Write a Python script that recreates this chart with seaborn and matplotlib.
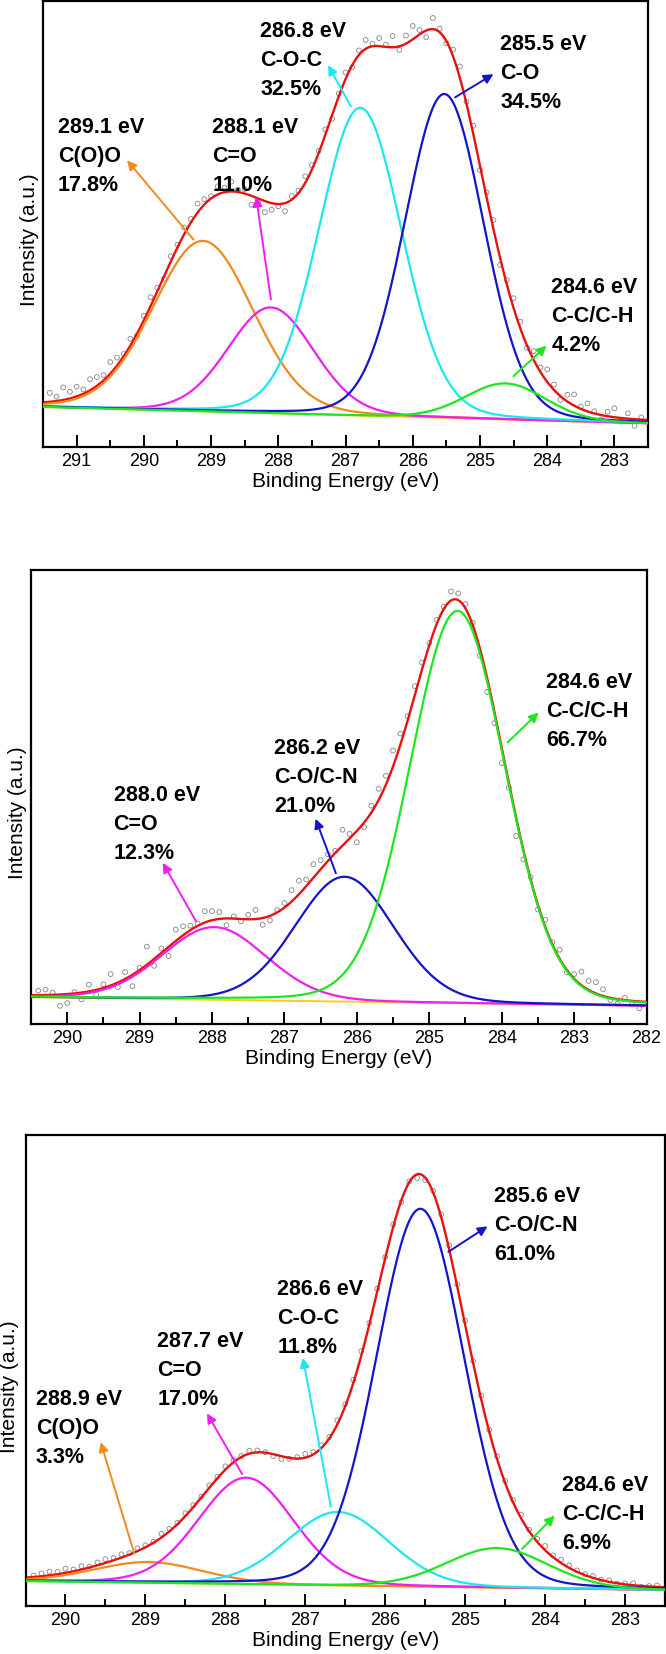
import numpy as np
import matplotlib
matplotlib.use("Agg")
import matplotlib.pyplot as plt
from matplotlib.ticker import MultipleLocator
import seaborn as sns

# ---------------- Panel 1 (C 1s, sample A) ----------------
p1_energy = np.linspace(291.4, 282.6, 89)
p1_resid = [2.0, 1.0, 2.8, 1.5, 2.2, 1.0, 2.5, 2.0, 1.2, 2.6,
            1.8, 0.5, 1.5, -0.5, 1.0, 2.0, 0.8, -0.5, 1.2, 0.6,
            1.5, 0.8, 2.0, 1.2, 0.5, 1.8, 1.0, 2.2, 0.5, 1.0,
            -2.0, -1.0, -2.5, -1.5, -0.5, -1.8, 0.8, 0.5, 1.5, 1.0,
            0.5, 1.2, -0.8, 0.6, 1.5, -0.5, 1.0, 2.0, 0.5, 1.8,
            0.5, 2.5, -0.8, 1.8, 3.0, 1.0, -1.5, 2.5, 0.8, -0.5,
            1.5, 2.5, 0.5, 1.8, -1.0, 1.2, 2.0, -1.5, 1.0, 2.2,
            1.5, -0.5, 2.0, 1.0, 2.8, 1.2, -0.8, 1.5, 2.5, 0.5,
            1.8, 0.5, -1.0, 1.0, 2.0, -0.8, 1.2, -1.5, 0.5]
p1_bg = [9.0, 5.3]          # background at high / low energy end
p1_center = [289.12, 288.11, 286.78, 285.53, 284.62]
p1_height = [38.2, 23.7, 69.0, 72.6, 8.1]
p1_fwhm = [1.75, 1.5, 1.45, 1.38, 1.4]
p1_labels = ["289.1 eV\nC(O)O\n17.8%", "288.1 eV\nC=O\n11.0%", "286.8 eV\nC-O-C\n32.5%",
             "285.5 eV\nC-O\n34.5%", "284.6 eV\nC-C/C-H\n4.2%"]

# ---------------- Panel 2 (C 1s, sample B) ----------------
p2_energy = np.linspace(290.4, 282.1, 84)
p2_resid = [1.0, 1.2, 0.5, -2.5, -2.0, 0.3, -1.5, 1.5, -1.0, 0.8,
            2.5, -1.0, 1.5, -2.5, 0.5, 4.0, -1.5, 1.0, -2.0, 2.5,
            2.0, 1.0, 0.5, 2.5, 2.0, 1.5, -1.5, 0.5, -0.5, 1.0,
            2.0, -1.5, -1.0, 0.5, 1.0, 2.5, 3.0, 1.5, 3.0, 2.0,
            1.5, 0.5, 3.5, 1.0, -2.5, -1.0, 1.5, 2.5, 2.0, 3.5,
            2.5, 1.0, 2.0, 1.5, 0.5, 1.0, 0.5, 2.0, 1.5, 1.0,
            0.5, -1.5, -3.0, -2.5, -3.5, -1.0, -4.0, -2.0, 0.5, -1.0,
            1.5, 0.5, 2.0, -0.5, 1.0, 3.0, 2.0, 2.5, 1.5, -0.5,
            -1.0, 0.5, -0.8, -1.5]
p2_bg = [5.9, 4.0]
p2_center = [287.97, 286.17, 284.61]
p2_height = [16.0, 27.5, 86.4]
p2_fwhm = [1.7, 1.6, 1.55]
p2_labels = ["288.0 eV\nC=O\n12.3%", "286.2 eV\nC-O/C-N\n21.0%", "284.6 eV\nC-C/C-H\n66.7%"]

# ---------------- Panel 3 (C 1s, sample C) ----------------
p3_energy = np.linspace(290.4, 282.6, 79)
p3_resid = [0.3, 0.6, 0.8, 0.5, 0.9, 0.4, 0.7, 0.2, 0.6, 0.8,
            0.5, 0.7, 0.3, 0.6, 0.4, 0.2, 0.8, 0.5, 0.3, 0.6,
            0.4, 0.2, 0.5, 0.3, 0.7, 0.5, 0.2, 0.6, 0.4, 0.1,
            -0.4, -0.6, -0.2, 0.3, 0.8, 0.5, 0.6, 0.3, 0.9, 0.4,
            0.7, 1.0, 0.4, 0.6, 0.2, 0.5, -0.3, 0.2, -0.8, -0.5,
            0.3, 0.6, 0.8, 0.4, 0.9, 0.5, 0.7, 0.3, 0.6, 0.4,
            0.5, 0.8, 0.3, 0.6, 0.9, 0.4, 0.7, 0.5, 0.3, 0.2,
            0.4, 0.1, 0.3, -0.1, 0.2, 0.4, -0.2, 0.1, 0.3]
p3_bg = [5.3, 3.4]
p3_center = [288.96, 287.74, 286.59, 285.56, 284.6]
p3_height = [4.4, 22.6, 15.6, 80.2, 8.4]
p3_fwhm = [1.6, 1.4, 1.5, 1.3, 1.5]
p3_labels = ["288.9 eV\nC(O)O\n3.3%", "287.7 eV\nC=O\n17.0%", "286.6 eV\nC-O-C\n11.8%",
             "285.6 eV\nC-O/C-N\n61.0%", "284.6 eV\nC-C/C-H\n6.9%"]

# ---------------- styles / layout ----------------
ORANGE, MAGENTA, CYAN, BLUE, GREEN = "#f28a1e", "#f01ef0", "#1ee6f0", "#1414c8", "#1ee61e"
RED = "#e8110f"
BGCOL = "#f2d21a"

panels = [
    dict(energy=p1_energy, resid=p1_resid, bg=p1_bg, center=p1_center, height=p1_height,
         fwhm=p1_fwhm, labels=p1_labels, colors=[ORANGE, MAGENTA, CYAN, BLUE, GREEN],
         xlim=(291.5, 282.5), major=np.arange(283, 292),
         rect=[0.0646, 0.7297, 0.9084, 0.2697], ylab_x=-0.007,
         text_xy=[(291.28, 74.0), (288.98, 74.0), (288.27, 95.5), (284.70, 92.7), (283.94, 38.2)],
         arrows=[((289.26, 46.5), (290.25, 64.3)), ((288.11, 33.1), (288.33, 56.1)),
                 ((286.92, 76.4), (287.26, 85.6)), ((285.37, 78.4), (284.80, 83.6)),
                 ((284.50, 15.9), (284.01, 22.7))]),
    dict(energy=p2_energy, resid=p2_resid, bg=p2_bg, center=p2_center, height=p2_height,
         fwhm=p2_fwhm, labels=p2_labels, colors=[MAGENTA, BLUE, GREEN],
         xlim=(290.5, 282.0), major=np.arange(282, 291),
         rect=[0.0465, 0.3809, 0.9243, 0.2745], ylab_x=-0.0065,
         text_xy=[(289.36, 52.7), (287.14, 63.0), (283.39, 77.5)],
         arrows=[((288.22, 22.6), (288.68, 35.5)), ((286.29, 33.2), (286.57, 45.2)),
                 ((283.92, 62.0), (283.49, 68.6))]),
    dict(energy=p3_energy, resid=p3_resid, bg=p3_bg, center=p3_center, height=p3_height,
         fwhm=p3_fwhm, labels=p3_labels, colors=[ORANGE, MAGENTA, CYAN, BLUE, GREEN],
         xlim=(290.5, 282.5), major=np.arange(283, 291),
         rect=[0.0383, 0.0290, 0.9602, 0.2848], ylab_x=-0.0094,
         text_xy=[(290.37, 46.0), (288.85, 58.3), (287.35, 69.5), (284.64, 89.2), (283.79, 27.8)],
         arrows=[((289.14, 11.2), (289.56, 34.8)), ((287.79, 28.0), (288.23, 40.9)),
                 ((286.68, 21.1), (287.03, 52.7)), ((285.21, 75.2), (284.72, 80.6)),
                 ((284.29, 12.1), (283.88, 19.2))]),
]


def pseudo_voigt(x, c, h, w, eta=0.1):
    u = (x - c) / w
    return h * ((1 - eta) * np.exp(-4 * np.log(2) * u ** 2) + eta / (1 + 4 * u ** 2))


def background(x, xlim, bg):
    return bg[1] + (bg[0] - bg[1]) * (x - xlim[1]) / (xlim[0] - xlim[1])


def envelope(x, p):
    y = background(x, p["xlim"], p["bg"])
    for c, h, w in zip(p["center"], p["height"], p["fwhm"]):
        y = y + pseudo_voigt(x, c, h, w)
    return y


sns.set_theme(style="white")
plt.rcParams["font.family"] = ["Liberation Sans", "DejaVu Sans"]

fig = plt.figure(figsize=(6.66, 16.54), dpi=100)

for p in panels:
    ax = fig.add_axes(p["rect"])
    grid = np.linspace(p["xlim"][1], p["xlim"][0], 800)
    bgline = background(grid, p["xlim"], p["bg"])

    # measured points
    pts = envelope(p["energy"], p) + np.array(p["resid"])
    sns.scatterplot(x=p["energy"], y=pts, ax=ax, marker="o", s=12, facecolors="none",
                    edgecolor="#858585", linewidth=0.6, zorder=1)

    # envelope + background
    sns.lineplot(x=grid, y=envelope(grid, p), ax=ax, color=RED, lw=1.7, zorder=2)
    sns.lineplot(x=grid, y=bgline, ax=ax, color=BGCOL, lw=1.4, zorder=2)

    # fitted components
    for c, h, w, col in zip(p["center"], p["height"], p["fwhm"], p["colors"]):
        sns.lineplot(x=grid, y=bgline + pseudo_voigt(grid, c, h, w), ax=ax,
                     color=col, lw=1.6, zorder=3)

    for (tx, ty), lab in zip(p["text_xy"], p["labels"]):
        ax.text(tx, ty, lab, ha="left", va="top", fontsize=15.5, fontweight="bold",
                linespacing=1.5, color="black", zorder=5)

    for (tail, head), col in zip(p["arrows"], p["colors"]):
        ax.annotate("", xy=head, xytext=tail,
                    arrowprops=dict(arrowstyle="-|>", color=col, lw=1.4,
                                    mutation_scale=14, shrinkA=0, shrinkB=0), zorder=4)

    ax.set_xlim(*p["xlim"])
    ax.set_ylim(0, 100)
    ax.set_xticks(p["major"])
    ax.set_xticklabels([str(v) for v in p["major"]])
    ax.xaxis.set_minor_locator(MultipleLocator(0.5))
    ax.set_yticks([])
    ax.tick_params(axis="x", which="both", bottom=True, direction="in", width=1.4,
                   color="black", labelsize=13, pad=4, labelcolor="black")
    ax.tick_params(axis="x", which="major", length=9)
    ax.tick_params(axis="x", which="minor", length=5)
    for s in ax.spines.values():
        s.set_visible(True)
        s.set_color("black")
        s.set_linewidth(1.6)
    ax.set_xlabel("Binding Energy (eV)", fontsize=15, labelpad=2, color="black")
    ax.set_ylabel("Intensity (a.u.)", fontsize=15, color="black")
    ax.yaxis.set_label_coords(p["ylab_x"], 0.465)

fig.savefig("out.png", dpi=100)
